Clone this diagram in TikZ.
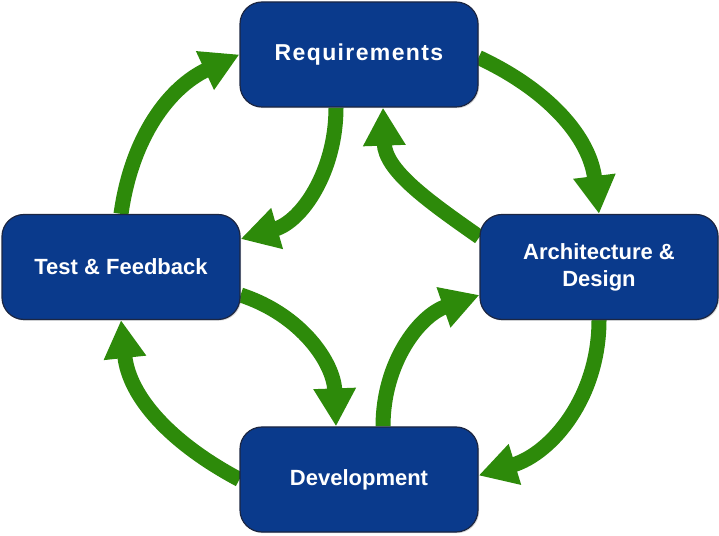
\documentclass[tikz,border=0pt]{standalone}
\usepackage{fontspec}
\setmainfont{Liberation Sans}
\usetikzlibrary{arrows.meta,shadows,backgrounds}
\definecolor{boxblue}{RGB}{10,58,140}
\definecolor{boxedge}{RGB}{28,38,66}
\definecolor{flowgreen}{RGB}{45,138,10}
\begin{document}
\begin{tikzpicture}[x=1pt,y=1pt,
  phase/.style={draw=boxedge, line width=1.2pt, fill=boxblue,
    rounded corners=22pt, minimum width=238pt, minimum height=105pt,
    inner sep=0pt, text=white, align=center,
    font=\bfseries\fontsize{22}{27}\selectfont,
    drop shadow={shadow xshift=1.2pt, shadow yshift=-1.2pt, opacity=0.3}},
  flow/.style={draw=flowgreen, line width=15pt,
    -{Triangle[length=38pt,width=40pt]}}
]
\useasboundingbox (0,0) rectangle (719,535);

% the four phases of the cycle
\node[phase] (req)  at (359,480.5) {\fontsize{23}{27}\selectfont\addfontfeatures{LetterSpace=6}Requirements};
\node[phase] (test) at (121,268)   {Test \& Feedback};
\node[phase] (arch) at (599,268)   {Architecture \&\\Design};
\node[phase] (dev)  at (359,55.5)  {Development};

% curved flows between the phases
\begin{scope}[on background layer]
  % outer ring
  \draw[flow] (test.north) to[out=82,in=205] (req.west);
  \draw[flow] ([yshift=-3pt]req.east) to[out=-25,in=97] (arch.north);
  \draw[flow] (arch.south) to[out=-90,in=17] ([yshift=4pt]dev.east);
  \draw[flow] (dev.west) to[out=152,in=-84] (test.south);
  % inner ring
  \draw[flow] ([xshift=-23pt]req.south) to[out=-90,in=16] ([yshift=28pt]test.east);
  \draw[flow] ([yshift=30pt]arch.west) to[out=145,in=-88] ([xshift=24pt]req.south);
  \draw[flow] ([xshift=24pt]dev.north) to[out=90,in=199] ([yshift=-28pt]arch.west);
  \draw[flow] ([yshift=-28pt]test.east) to[out=-18,in=92] ([xshift=-23pt]dev.north);
\end{scope}
\end{tikzpicture}
\end{document}
